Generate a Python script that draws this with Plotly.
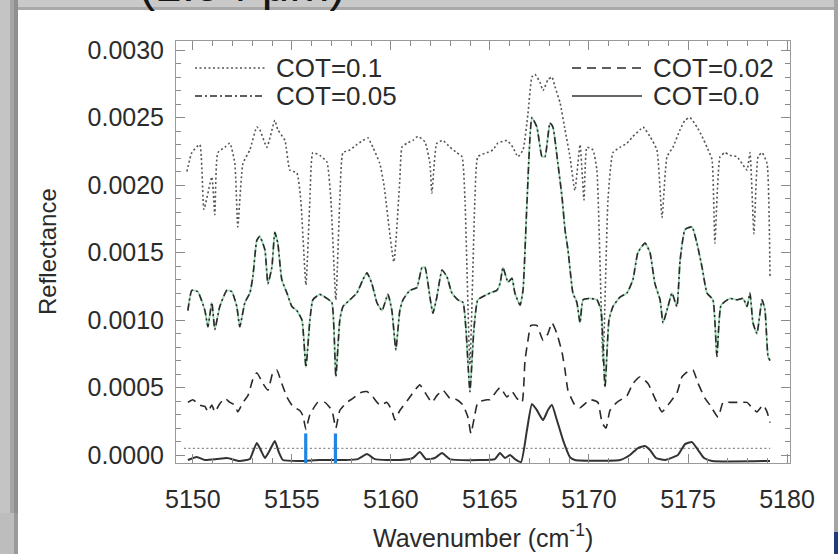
import plotly.graph_objects as go

# ---------------- data ----------------
wn_cot010 = [5149.70, 5149.95, 5150.35, 5150.56, 5150.96, 5151.11, 5151.26, 5151.62, 5151.87, 5152.12,
             5152.27, 5152.53, 5152.88, 5153.23, 5153.38, 5153.74, 5154.14, 5154.29, 5154.65, 5154.90,
             5155.25, 5155.45, 5155.71, 5155.91, 5156.06, 5156.41, 5156.77, 5156.97, 5157.22, 5157.42,
             5157.58, 5157.93, 5158.28, 5158.59, 5158.84, 5159.09, 5159.44, 5159.65, 5160.15, 5160.45,
             5160.56, 5160.81, 5161.11, 5161.36, 5161.72, 5161.97, 5162.07, 5162.32, 5162.63, 5162.98,
             5163.33, 5163.59, 5163.74, 5163.99, 5164.24, 5164.39, 5164.85, 5165.15, 5165.40, 5165.86,
             5166.16, 5166.41, 5166.67, 5166.92, 5167.12, 5167.27, 5167.53, 5167.68, 5167.93, 5168.13,
             5168.28, 5168.54, 5168.79, 5169.04, 5169.29, 5169.55, 5169.75, 5169.90, 5170.20, 5170.40,
             5170.71, 5170.96, 5171.21, 5171.57, 5171.92, 5172.22, 5172.58, 5172.73, 5173.08, 5173.43,
             5173.69, 5173.94, 5174.24, 5174.60, 5174.85, 5175.10, 5175.45, 5175.71, 5175.96, 5176.21,
             5176.36, 5176.62, 5176.87, 5177.12, 5177.47, 5177.73, 5177.98, 5178.13, 5178.33, 5178.54,
             5178.74, 5178.99, 5179.14]
r_cot010 = [0.00210, 0.00224, 0.00230, 0.00182, 0.00206, 0.00178, 0.00224, 0.00228, 0.00231, 0.00216,
            0.00169, 0.00216, 0.00226, 0.00243, 0.00241, 0.00228, 0.00248, 0.00241, 0.00233, 0.00211,
            0.00209, 0.00189, 0.00126, 0.00189, 0.00224, 0.00222, 0.00217, 0.00189, 0.00115, 0.00189,
            0.00224, 0.00226, 0.00230, 0.00233, 0.00235, 0.00228, 0.00216, 0.00200, 0.00143, 0.00204,
            0.00228, 0.00231, 0.00233, 0.00236, 0.00232, 0.00216, 0.00194, 0.00231, 0.00233, 0.00228,
            0.00224, 0.00221, 0.00189, 0.00067, 0.00189, 0.00221, 0.00224, 0.00226, 0.00231, 0.00233,
            0.00228, 0.00221, 0.00226, 0.00253, 0.00280, 0.00282, 0.00276, 0.00270, 0.00278, 0.00280,
            0.00273, 0.00261, 0.00241, 0.00221, 0.00196, 0.00230, 0.00189, 0.00228, 0.00226, 0.00211,
            0.00069, 0.00189, 0.00224, 0.00228, 0.00231, 0.00236, 0.00241, 0.00243, 0.00236, 0.00226,
            0.00176, 0.00221, 0.00228, 0.00241, 0.00248, 0.00250, 0.00243, 0.00236, 0.00228, 0.00219,
            0.00157, 0.00221, 0.00224, 0.00222, 0.00221, 0.00216, 0.00211, 0.00224, 0.00164, 0.00221,
            0.00224, 0.00216, 0.00132]

wn_cot005 = [5149.75, 5149.95, 5150.25, 5150.61, 5150.76, 5150.96, 5151.11, 5151.36, 5151.72, 5151.97,
             5152.22, 5152.37, 5152.63, 5152.88, 5153.03, 5153.23, 5153.38, 5153.64, 5153.79, 5153.99,
             5154.14, 5154.29, 5154.49, 5154.75, 5155.00, 5155.25, 5155.51, 5155.71, 5155.91, 5156.06,
             5156.41, 5156.77, 5157.02, 5157.22, 5157.42, 5157.58, 5157.93, 5158.28, 5158.59, 5158.79,
             5159.04, 5159.29, 5159.55, 5159.85, 5160.05, 5160.25, 5160.45, 5160.61, 5160.96, 5161.31,
             5161.57, 5161.72, 5161.97, 5162.12, 5162.32, 5162.58, 5162.83, 5163.08, 5163.38, 5163.64,
             5163.79, 5163.99, 5164.19, 5164.39, 5164.85, 5165.00, 5165.35, 5165.51, 5165.66, 5165.91,
             5166.11, 5166.26, 5166.52, 5166.67, 5166.87, 5167.12, 5167.37, 5167.63, 5167.78, 5168.03,
             5168.18, 5168.43, 5168.64, 5168.79, 5168.94, 5169.19, 5169.39, 5169.55, 5169.70, 5170.05,
             5170.40, 5170.61, 5170.81, 5171.01, 5171.21, 5171.57, 5171.92, 5172.22, 5172.47, 5172.83,
             5173.08, 5173.33, 5173.59, 5173.74, 5173.99, 5174.19, 5174.44, 5174.60, 5174.85, 5175.20,
             5175.45, 5175.71, 5175.96, 5176.26, 5176.46, 5176.67, 5177.12, 5177.47, 5177.78, 5177.98,
             5178.13, 5178.28, 5178.48, 5178.74, 5178.89, 5179.04, 5179.14]
r_cot005 = [0.00107, 0.00122, 0.00121, 0.00107, 0.00095, 0.00113, 0.00093, 0.00110, 0.00122, 0.00121,
            0.00110, 0.00095, 0.00113, 0.00120, 0.00132, 0.00159, 0.00162, 0.00152, 0.00127, 0.00139,
            0.00165, 0.00157, 0.00130, 0.00120, 0.00110, 0.00107, 0.00100, 0.00065, 0.00100, 0.00115,
            0.00119, 0.00116, 0.00113, 0.00058, 0.00100, 0.00110, 0.00115, 0.00120, 0.00130, 0.00135,
            0.00127, 0.00113, 0.00107, 0.00119, 0.00107, 0.00078, 0.00107, 0.00115, 0.00122, 0.00124,
            0.00139, 0.00139, 0.00117, 0.00105, 0.00117, 0.00137, 0.00132, 0.00120, 0.00115, 0.00113,
            0.00093, 0.00047, 0.00093, 0.00115, 0.00119, 0.00120, 0.00122, 0.00127, 0.00139, 0.00128,
            0.00131, 0.00120, 0.00111, 0.00122, 0.00187, 0.00250, 0.00243, 0.00221, 0.00221, 0.00246,
            0.00243, 0.00216, 0.00191, 0.00167, 0.00152, 0.00120, 0.00113, 0.00098, 0.00115, 0.00116,
            0.00115, 0.00107, 0.00050, 0.00100, 0.00110, 0.00117, 0.00120, 0.00130, 0.00150, 0.00157,
            0.00150, 0.00127, 0.00115, 0.00098, 0.00110, 0.00120, 0.00110, 0.00144, 0.00167, 0.00169,
            0.00157, 0.00139, 0.00120, 0.00115, 0.00073, 0.00111, 0.00116, 0.00115, 0.00116, 0.00110,
            0.00120, 0.00098, 0.00090, 0.00115, 0.00107, 0.00073, 0.00070]

wn_cot002 = [5149.75, 5150.00, 5150.35, 5150.61, 5150.76, 5150.96, 5151.11, 5151.36, 5151.62, 5151.87,
             5152.12, 5152.27, 5152.53, 5152.78, 5153.03, 5153.23, 5153.54, 5153.79, 5154.04, 5154.24,
             5154.49, 5154.75, 5155.05, 5155.40, 5155.56, 5155.71, 5155.91, 5156.31, 5156.67, 5157.02,
             5157.22, 5157.42, 5157.78, 5158.08, 5158.43, 5158.79, 5159.09, 5159.44, 5159.80, 5160.05,
             5160.20, 5160.45, 5160.86, 5161.21, 5161.46, 5161.82, 5162.07, 5162.32, 5162.63, 5162.98,
             5163.33, 5163.64, 5163.89, 5164.04, 5164.24, 5164.39, 5164.85, 5165.00, 5165.51, 5165.86,
             5166.11, 5166.36, 5166.62, 5166.77, 5166.92, 5167.07, 5167.37, 5167.68, 5167.93, 5168.13,
             5168.38, 5168.64, 5168.79, 5168.94, 5169.29, 5169.55, 5170.05, 5170.45, 5170.66, 5170.86,
             5171.06, 5171.41, 5171.92, 5172.22, 5172.58, 5172.98, 5173.33, 5173.69, 5174.09, 5174.44,
             5174.70, 5175.00, 5175.25, 5175.51, 5175.86, 5176.11, 5176.52, 5176.77, 5177.12, 5177.53,
             5177.98, 5178.23, 5178.48, 5178.79, 5178.99, 5179.14]
r_cot002 = [0.00039, 0.00041, 0.00037, 0.00036, 0.00032, 0.00037, 0.00032, 0.00038, 0.00042, 0.00039,
            0.00037, 0.00032, 0.00039, 0.00044, 0.00056, 0.00061, 0.00053, 0.00048, 0.00061, 0.00063,
            0.00053, 0.00043, 0.00036, 0.00033, 0.00029, 0.00019, 0.00030, 0.00039, 0.00039, 0.00033,
            0.00020, 0.00033, 0.00039, 0.00042, 0.00046, 0.00047, 0.00043, 0.00037, 0.00039, 0.00033,
            0.00026, 0.00033, 0.00041, 0.00048, 0.00052, 0.00044, 0.00039, 0.00044, 0.00048, 0.00042,
            0.00041, 0.00037, 0.00028, 0.00016, 0.00030, 0.00039, 0.00041, 0.00041, 0.00050, 0.00043,
            0.00047, 0.00042, 0.00039, 0.00070, 0.00085, 0.00096, 0.00096, 0.00085, 0.00090, 0.00098,
            0.00090, 0.00076, 0.00063, 0.00048, 0.00037, 0.00035, 0.00041, 0.00039, 0.00024, 0.00020,
            0.00033, 0.00039, 0.00044, 0.00053, 0.00058, 0.00053, 0.00042, 0.00032, 0.00039, 0.00046,
            0.00058, 0.00062, 0.00063, 0.00053, 0.00042, 0.00037, 0.00028, 0.00039, 0.00039, 0.00039,
            0.00039, 0.00035, 0.00032, 0.00037, 0.00032, 0.00024]

wn_cot000 = [5149.75, 5150.20, 5150.61, 5151.21, 5151.72, 5152.37, 5152.88, 5153.03, 5153.23, 5153.43,
             5153.64, 5153.89, 5154.14, 5154.34, 5154.55, 5155.40, 5156.41, 5157.68, 5158.33, 5158.79,
             5159.19, 5160.45, 5161.11, 5161.46, 5161.77, 5162.22, 5162.58, 5162.98, 5164.49, 5165.25,
             5165.51, 5165.76, 5166.01, 5166.26, 5166.57, 5166.87, 5167.12, 5167.37, 5167.68, 5167.93,
             5168.13, 5168.38, 5168.69, 5169.04, 5169.29, 5171.57, 5172.07, 5172.47, 5172.83, 5173.08,
             5173.38, 5173.84, 5174.49, 5174.85, 5175.20, 5175.51, 5175.81, 5176.21, 5179.14]
r_cot000 = [-0.000037, -0.000015, -0.000037, -0.000030, -0.000022, -0.000044, -0.000030, 0.000022, 0.000089, 0.000037,
            -0.000022, 0.000037, 0.000104, 0.000022, -0.000037, -0.000044, -0.000037, -0.000037, -0.000030, 0.000007,
            -0.000030, -0.000037, -0.000022, 0.000022, -0.000030, -0.000022, 0.000015, -0.000030, -0.000037, -0.000030,
            0.000015, -0.000022, 0.000000, -0.000030, -0.000052, 0.000185, 0.000378, 0.000333, 0.000259, 0.000333,
            0.000370, 0.000259, 0.000111, -0.000015, -0.000037, -0.000037, 0.000000, 0.000052, 0.000067, 0.000037,
            -0.000022, -0.000037, 0.000000, 0.000081, 0.000096, 0.000037, -0.000022, -0.000044, -0.000044]

ref_wn = [5149.55, 5179.15]          # dotted reference level
ref_r = [0.00005, 0.00005]
marker_wn = [5155.70, 5157.20]       # blue line markers
marker_top = 0.00016

x_ticks = [5150, 5155, 5160, 5165, 5170, 5175, 5180]
y_ticks = [0.0000, 0.0005, 0.0010, 0.0015, 0.0020, 0.0025, 0.0030]
x_range = [5149.15, 5180.15]
y_range = [-0.000059, 0.003067]

labels = ["COT=0.1", "COT=0.05", "COT=0.02", "COT=0.0"]
slide_title_tail = "(1.94 μm)"   # only the bottom of this slide title shows at the top edge

# ---------------- layout geometry ----------------
W, H = 838, 554
L, R, T, B = 176, 790, 41, 463


def px(x):
    return (x - L) / (R - L)


def py(y):
    return (B - y) / (B - T)


FONT = "Liberation Sans, Arial, sans-serif"
TXT = "#2b2b2b"

DOT = "2px,2.5px"
DASH = "9px,6px"
DASHDOT = "7px,3px,2px,3px"
SMOOTH = 0.45

fig = go.Figure()

# reference level
fig.add_trace(go.Scatter(x=ref_wn, y=ref_r, mode="lines", showlegend=False, hoverinfo="skip",
                         line=dict(color="#8a8a8a", width=1.3, dash=DOT)))

# COT = 0.1 (dotted)
fig.add_trace(go.Scatter(x=wn_cot010, y=r_cot010, mode="lines", name=labels[0], showlegend=False,
                         line=dict(color="#555555", width=1.6, dash=DOT, shape="spline", smoothing=SMOOTH)))
# COT = 0.05 (dash-dot over a faint green line)
fig.add_trace(go.Scatter(x=wn_cot005, y=r_cot005, mode="lines", showlegend=False, hoverinfo="skip",
                         line=dict(color="rgba(120,200,150,0.7)", width=1.8, shape="spline", smoothing=SMOOTH)))
fig.add_trace(go.Scatter(x=wn_cot005, y=r_cot005, mode="lines", name=labels[1], showlegend=False,
                         line=dict(color="#2a2a2a", width=1.6, dash=DASHDOT, shape="spline", smoothing=SMOOTH)))
# COT = 0.02 (dashed)
fig.add_trace(go.Scatter(x=wn_cot002, y=r_cot002, mode="lines", name=labels[2], showlegend=False,
                         line=dict(color="#2a2a2a", width=1.6, dash=DASH, shape="spline", smoothing=SMOOTH)))
# COT = 0.0 (solid)
fig.add_trace(go.Scatter(x=wn_cot000, y=r_cot000, mode="lines", name=labels[3], showlegend=False,
                         line=dict(color="#333333", width=2, shape="spline", smoothing=SMOOTH)))

# blue markers
for w in marker_wn:
    fig.add_trace(go.Scatter(x=[w, w], y=[y_range[0], marker_top], mode="lines", showlegend=False,
                             hoverinfo="skip", line=dict(color="#1f86e6", width=3.2)))

shapes = []
annotations = []

# manual legend
leg_rows = [(px(195), px(265), py(68), DOT, "#555555", labels[0], px(274)),
            (px(195), px(265), py(96), DASHDOT, "#2a2a2a", labels[1], px(274)),
            (px(572), px(642), py(68), DASH, "#2a2a2a", labels[2], px(651)),
            (px(572), px(642), py(96), "solid", "#333333", labels[3], px(651))]
for x0, x1, yy, dash, col, lab, tx in leg_rows:
    shapes.append(dict(type="line", xref="paper", yref="paper", x0=x0, x1=x1, y0=yy, y1=yy,
                       line=dict(color=col, width=1.7, dash=dash)))
    annotations.append(dict(xref="paper", yref="paper", x=tx, y=yy, xanchor="left", yanchor="middle",
                            text=lab, showarrow=False, font=dict(family=FONT, size=26, color=TXT)))

# axis titles
annotations.append(dict(xref="paper", yref="paper", x=px(483), y=py(536), xanchor="center", yanchor="middle",
                        text="Wavenumber (cm<sup>-1</sup>)", showarrow=False,
                        font=dict(family=FONT, size=25, color=TXT)))
annotations.append(dict(xref="paper", yref="paper", x=px(47), y=py(252), xanchor="center", yanchor="middle",
                        text="Reflectance", textangle=-90, showarrow=False,
                        font=dict(family=FONT, size=24, color=TXT)))

# slide decoration around the picture
def rect(x0, y0, x1, y1, color):
    shapes.append(dict(type="rect", xref="paper", yref="paper", x0=px(x0), x1=px(x1), y0=py(y1), y1=py(y0),
                       fillcolor=color, line=dict(width=0), layer="above"))

rect(0, 0, 838, 9, "#c9c9c9")
rect(0, 7, 838, 10, "#a9a9a9")
rect(0, 0, 10, 513, "#c4c4c4")
rect(10, 0, 14, 513, "#a6a6a6")
rect(14, 0, 18, 513, "#8f8f8f")
rect(0, 513, 18, 554, "#bdbdbd")
rect(14, 513, 18, 554, "#9a9a9a")
rect(834, 0, 838, 532, "#a4a4a4")
rect(834, 532, 838, 554, "#1f3c78")

# slide title, cut off by the top edge of the picture
annotations.append(dict(xref="paper", yref="paper", x=px(137), y=py(-16), xanchor="left", yanchor="middle",
                        text=slide_title_tail, showarrow=False,
                        font=dict(family=FONT, size=48, color="#151515")))

axis_common = dict(showline=True, linecolor="#9a9a9a", linewidth=1, mirror="allticks",
                   ticks="inside", ticklen=9, tickwidth=1, tickcolor="#8a8a8a",
                   showgrid=False, zeroline=False,
                   tickfont=dict(family=FONT, size=25, color=TXT))

fig.update_layout(
    width=W, height=H,
    margin=dict(l=L, r=W - R, t=T, b=H - B),
    paper_bgcolor="white", plot_bgcolor="white",
    showlegend=False,
    shapes=shapes, annotations=annotations,
    xaxis=dict(range=x_range, tickvals=x_ticks, ticklabelstandoff=14,
               minor=dict(ticks="inside", ticklen=5, dtick=1, tickcolor="#8a8a8a", showgrid=False),
               **axis_common),
    yaxis=dict(range=y_range, tickvals=y_ticks, tickformat=".4f", ticklabelstandoff=6,
               minor=dict(ticks="inside", ticklen=5, dtick=0.0001, tickcolor="#8a8a8a", showgrid=False),
               **axis_common),
)

fig.write_html("out.html")
